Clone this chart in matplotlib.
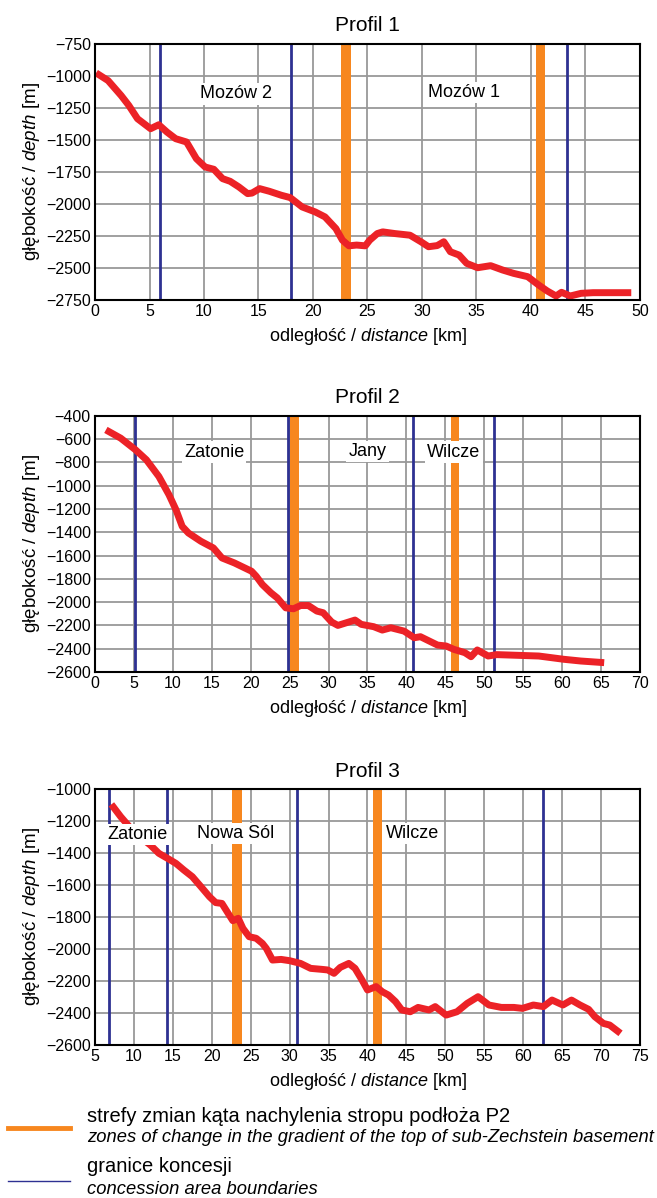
import numpy as np
import matplotlib.pyplot as plt
from matplotlib.lines import Line2D

plt.rcParams['font.family'] = ['Liberation Sans', 'DejaVu Sans']
plt.rcParams['mathtext.fontset'] = 'custom'
plt.rcParams['mathtext.rm'] = 'Liberation Sans'
plt.rcParams['mathtext.it'] = 'Liberation Sans:italic'

RED = '#ec2227'
BLUE = '#2e3192'
ORANGE = '#f7871f'
GRID = '#999999'

# Profil 1
p1_x = [0.1, 1.2, 2.4, 3.1, 3.9, 5.1, 5.85, 6.6, 7.4, 8.4, 9.3, 10.1, 10.9, 11.7, 12.4,
        13.2, 14.0, 14.4, 15.1, 16.0, 17.1, 17.9, 19.0, 20.2, 21.1, 22.1, 22.7, 23.3,
        24.0, 24.8, 25.2, 25.9, 26.4, 27.5, 28.9, 29.9, 30.6, 31.4, 32.0, 32.6, 33.4,
        34.1, 35.1, 36.3, 37.4, 38.4, 39.7, 40.7, 41.5, 42.3, 42.8, 43.6, 44.6, 45.7, 49.2]
p1_y = [-976, -1036, -1153, -1230, -1334, -1412, -1381, -1438, -1490, -1516, -1646, -1711,
        -1729, -1802, -1823, -1867, -1919, -1915, -1880, -1901, -1932, -1950, -2023, -2062,
        -2101, -2192, -2283, -2327, -2321, -2327, -2283, -2231, -2218, -2231, -2244, -2295,
        -2334, -2325, -2295, -2373, -2399, -2464, -2498, -2482, -2516, -2542, -2568, -2633,
        -2680, -2719, -2690, -2719, -2698, -2693, -2693]
p1_bounds = [6.0, 18.0, 43.3]
p1_zones = [(22.6, 23.5), (40.5, 41.3)]
p1_labels = [('Mozów 2', 12.9, -1140), ('Mozów 1', 33.9, -1128)]

# Profil 2
p2_x = [1.4, 3.3, 5.2, 6.6, 8.2, 9.5, 10.4, 11.2, 12.0, 13.6, 15.2, 16.3, 17.9, 20.1, 20.7,
        21.5, 22.6, 23.4, 24.5, 25.5, 26.4, 27.4, 28.5, 29.3, 30.4, 31.2, 32.3, 33.4, 34.2,
        35.8, 36.9, 38.0, 39.7, 41.0, 41.8, 43.2, 44.0, 45.1, 46.1, 47.5, 48.3, 49.1, 50.5,
        51.6, 54.3, 57.0, 60.2, 62.4, 65.4]
p2_y = [-520, -591, -691, -777, -920, -1077, -1206, -1349, -1406, -1477, -1534, -1620, -1663,
        -1734, -1777, -1849, -1920, -1963, -2049, -2057, -2029, -2029, -2077, -2091, -2171,
        -2200, -2177, -2154, -2191, -2211, -2240, -2220, -2249, -2306, -2297, -2343, -2369,
        -2377, -2406, -2434, -2469, -2411, -2463, -2451, -2457, -2463, -2491, -2506, -2520]
p2_bounds = [5.1, 24.8, 40.8, 51.3]
p2_zones = [(25.1, 26.2), (45.7, 46.8)]
p2_labels = [('Zatonie', 15.3, -710), ('Jany', 35.0, -705), ('Wilcze', 46.1, -710)]

# Profil 3
p3_x = [7.1, 8.3, 9.4, 10.5, 12.1, 13.2, 14.3, 15.4, 16.4, 17.5, 18.6, 19.7, 20.5, 21.3,
        22.1, 22.7, 23.4, 24.0, 24.8, 25.7, 26.5, 27.0, 27.8, 28.9, 30.0, 31.4, 32.7, 34.1,
        34.9, 35.7, 36.5, 37.6, 38.4, 39.3, 40.0, 41.1, 41.9, 42.7, 43.6, 44.4, 45.5, 46.5,
        47.9, 48.7, 50.1, 51.5, 52.8, 54.2, 55.6, 57.2, 58.8, 59.9, 61.3, 62.6, 63.7, 65.1,
        66.2, 67.3, 68.4, 69.2, 70.3, 71.1, 72.5]
p3_y = [-1096, -1173, -1235, -1288, -1350, -1402, -1433, -1465, -1506, -1548, -1610, -1673,
        -1710, -1715, -1777, -1823, -1808, -1871, -1923, -1933, -1965, -1996, -2069, -2065,
        -2073, -2090, -2121, -2127, -2131, -2152, -2115, -2090, -2121, -2194, -2256, -2235,
        -2267, -2288, -2329, -2381, -2392, -2365, -2381, -2360, -2413, -2392, -2340, -2298,
        -2350, -2365, -2365, -2371, -2350, -2360, -2319, -2350, -2319, -2350, -2377, -2423,
        -2465, -2475, -2527]
p3_bounds = [6.8, 14.2, 31.0, 62.5]
p3_zones = [(22.6, 23.9), (40.7, 41.9)]
p3_labels = [('Zatonie', 10.4, -1285), ('Nowa Sól', 23.0, -1280), ('Wilcze', 45.8, -1280)]

profiles = [
    ('Profil 1', p1_x, p1_y, p1_bounds, p1_zones, p1_labels, (0, 50), (-2750, -750), 250, 0.7496),
    ('Profil 2', p2_x, p2_y, p2_bounds, p2_zones, p2_labels, (0, 70), (-2600, -400), 200, 0.4391),
    ('Profil 3', p3_x, p3_y, p3_bounds, p3_zones, p3_labels, (5, 75), (-2600, -1000), 200, 0.1277),
]

fig = plt.figure(figsize=(6.57, 11.98), dpi=100)

for title, xs, ys, bounds, zones, labels, xlim, ylim, ystep, bottom in profiles:
    ax = fig.add_axes([0.1446, bottom, 0.8295, 0.2137])
    ax.set_xlim(*xlim)
    ax.set_ylim(*ylim)
    ax.set_xticks(np.arange(xlim[0], xlim[1] + 1, 5))
    ax.set_yticks(np.arange(ylim[0], ylim[1] + 1, ystep))
    ax.grid(True, color=GRID, lw=1.3)
    ax.set_axisbelow(True)
    for a, b in zones:
        ax.axvspan(a, b, color=ORANGE, lw=0, zorder=2)
    for b in bounds:
        ax.axvline(b, color=BLUE, lw=2, zorder=3)
    ax.plot(xs, ys, color=RED, lw=5, solid_capstyle='butt', zorder=4)
    for txt, lx, ly in labels:
        ax.text(lx, ly, txt, ha='center', va='center', fontsize=13, zorder=5,
                bbox=dict(facecolor='white', edgecolor='none', pad=1.5))
    ax.tick_params(length=0, pad=3, labelsize=11.5)
    for s in ax.spines.values():
        s.set_linewidth(1.5)
        s.set_zorder(6)
    ax.set_title(title, fontsize=15, pad=9)
    ax.set_xlabel('odległość / $\\mathit{distance}$ [km]', fontsize=13, labelpad=5)
    ax.set_ylabel('głębokość / $\\mathit{depth}$ [m]', fontsize=13.5, labelpad=3)

# legend at the bottom
fig.add_artist(Line2D([8 / 657, 70 / 657], [1 - 1128 / 1198] * 2, color=ORANGE, lw=3.5))
fig.add_artist(Line2D([8 / 657, 70 / 657], [1 - 1181 / 1198] * 2, color=BLUE, lw=1))
fig.text(87 / 657, 1 - 1117 / 1198, 'strefy zmian kąta nachylenia stropu podłoża P2',
         fontsize=14.5, va='center')
fig.text(87 / 657, 1 - 1138 / 1198,
         'zones of change in the gradient of the top of sub-Zechstein basement',
         fontsize=13.2, style='italic', va='center')
fig.text(87 / 657, 1 - 1167 / 1198, 'granice koncesji', fontsize=14.5, va='center')
fig.text(87 / 657, 1 - 1189 / 1198, 'concession area boundaries',
         fontsize=13.2, style='italic', va='center')

fig.savefig('out.png', dpi=100)
